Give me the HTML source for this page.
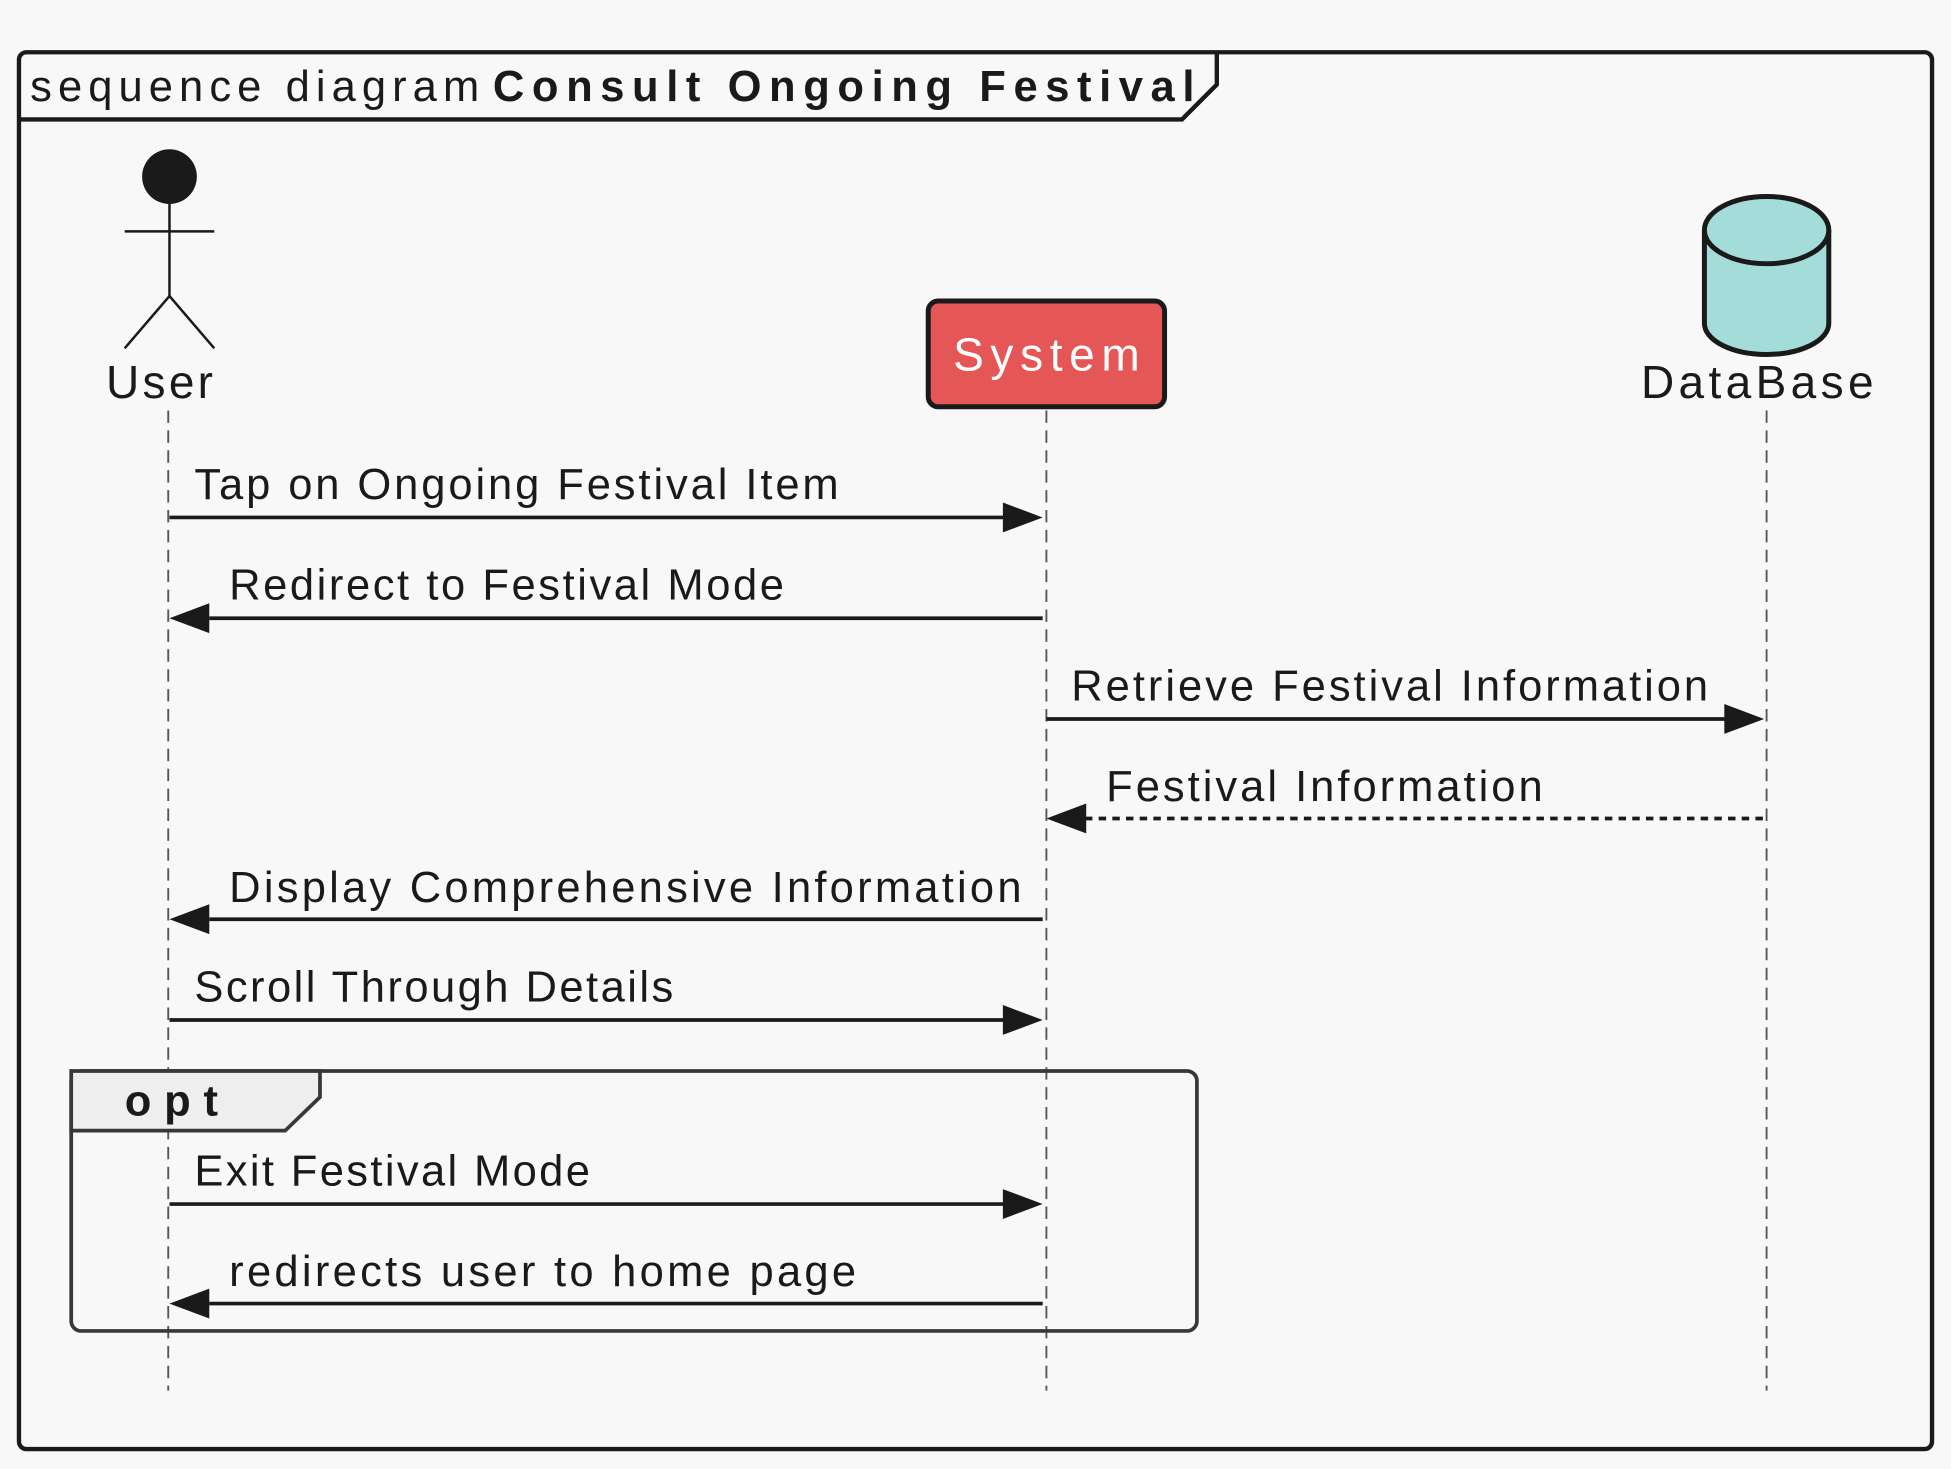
<!DOCTYPE html>
<html><head><meta charset="utf-8"><style>
html,body{margin:0;padding:0;background:#f8f8f8;}
svg{display:block;}
text{font-family:"Liberation Sans",sans-serif;fill:#1a1a1a;}
</style></head><body>
<svg width="1951" height="1469" viewBox="0 0 1568 1181" xmlns="http://www.w3.org/2000/svg">
<rect x="0" y="0" width="1568" height="1181" fill="#f8f8f8"/>
<rect x="15" y="42" width="1538" height="1123" rx="6" fill="none" stroke="#1a1a1a" stroke-width="3.5"/>
<path d="M15,96 L950,96 L978,68 L978,42" fill="none" stroke="#1a1a1a" stroke-width="3.5"/>
<text x="24" y="81" font-size="35" textLength="361" lengthAdjust="spacing">sequence diagram</text>
<text x="396" y="81" font-size="35" font-weight="bold" textLength="564" lengthAdjust="spacing">Consult Ongoing Festival</text>

<g stroke="#555" stroke-width="1.5" stroke-dasharray="10,6">
<line x1="135" y1="330" x2="135" y2="1118"/>
<line x1="841" y1="330" x2="841" y2="1118"/>
<line x1="1420" y1="330" x2="1420" y2="1118"/>
</g>

<circle cx="136" cy="142" r="22" fill="#1a1a1a"/>
<g stroke="#1a1a1a" stroke-width="2" fill="none">
<line x1="136" y1="164" x2="136" y2="238"/>
<line x1="100" y1="186" x2="172" y2="186"/>
<path d="M100,280 L136,238 L172,280"/>
</g>
<text x="85" y="320" font-size="37" textLength="86" lengthAdjust="spacing">User</text>

<rect x="746" y="242" width="190" height="85" rx="8" fill="#e55757" stroke="#1a1a1a" stroke-width="4"/>
<text x="766" y="298" font-size="37" style="fill:#fff" textLength="150" lengthAdjust="spacing">System</text>

<path d="M1370,185 L1370,260 A50,25 0 0 0 1470,260 L1470,185" fill="#a4dcd9" stroke="#1a1a1a" stroke-width="4"/>
<ellipse cx="1420" cy="185" rx="50" ry="27" fill="#a4dcd9" stroke="#1a1a1a" stroke-width="4"/>
<text x="1319" y="320" font-size="37" textLength="187" lengthAdjust="spacing">DataBase</text>

<rect x="57" y="861" width="905" height="209" rx="8" fill="none" stroke="#383838" stroke-width="3"/>
<path d="M57,861 L257,861 L257,882 L229,909 L57,909 Z" fill="#eeeeee" stroke="#383838" stroke-width="3"/>
<text x="100" y="897" font-size="35" font-weight="bold" textLength="75" lengthAdjust="spacing">opt</text>

<g stroke="#1a1a1a" stroke-width="3">
<line x1="136" y1="416" x2="808" y2="416"/>
<line x1="168" y1="497" x2="838" y2="497"/>
<line x1="841" y1="578" x2="1388" y2="578"/>
<line x1="872" y1="658" x2="1418" y2="658" stroke-dasharray="6,5"/>
<line x1="168" y1="739" x2="838" y2="739"/>
<line x1="136" y1="820" x2="808" y2="820"/>
<line x1="136" y1="968" x2="808" y2="968"/>
<line x1="168" y1="1048" x2="838" y2="1048"/>
</g>
<g fill="#1a1a1a">
<path d="M806,404 L838,416 L806,428 Z"/>
<path d="M168,485 L136,497 L168,509 Z"/>
<path d="M1386,566 L1418,578 L1386,590 Z"/>
<path d="M873,646 L841,658 L873,670 Z"/>
<path d="M168,727 L136,739 L168,751 Z"/>
<path d="M806,808 L838,820 L806,832 Z"/>
<path d="M806,956 L838,968 L806,980 Z"/>
<path d="M168,1036 L136,1048 L168,1060 Z"/>
</g>
<g font-size="35">
<text x="156" y="401" textLength="518" lengthAdjust="spacing">Tap on Ongoing Festival Item</text>
<text x="184" y="482" textLength="446" lengthAdjust="spacing">Redirect to Festival Mode</text>
<text x="861" y="563" textLength="512" lengthAdjust="spacing">Retrieve Festival Information</text>
<text x="889" y="644" textLength="351" lengthAdjust="spacing">Festival Information</text>
<text x="184" y="725" textLength="637" lengthAdjust="spacing">Display Comprehensive Information</text>
<text x="156" y="805" textLength="385" lengthAdjust="spacing">Scroll Through Details</text>
<text x="156" y="953" textLength="318" lengthAdjust="spacing">Exit Festival Mode</text>
<text x="184" y="1034" textLength="504" lengthAdjust="spacing">redirects user to home page</text>
</g>
</svg>
</body></html>
